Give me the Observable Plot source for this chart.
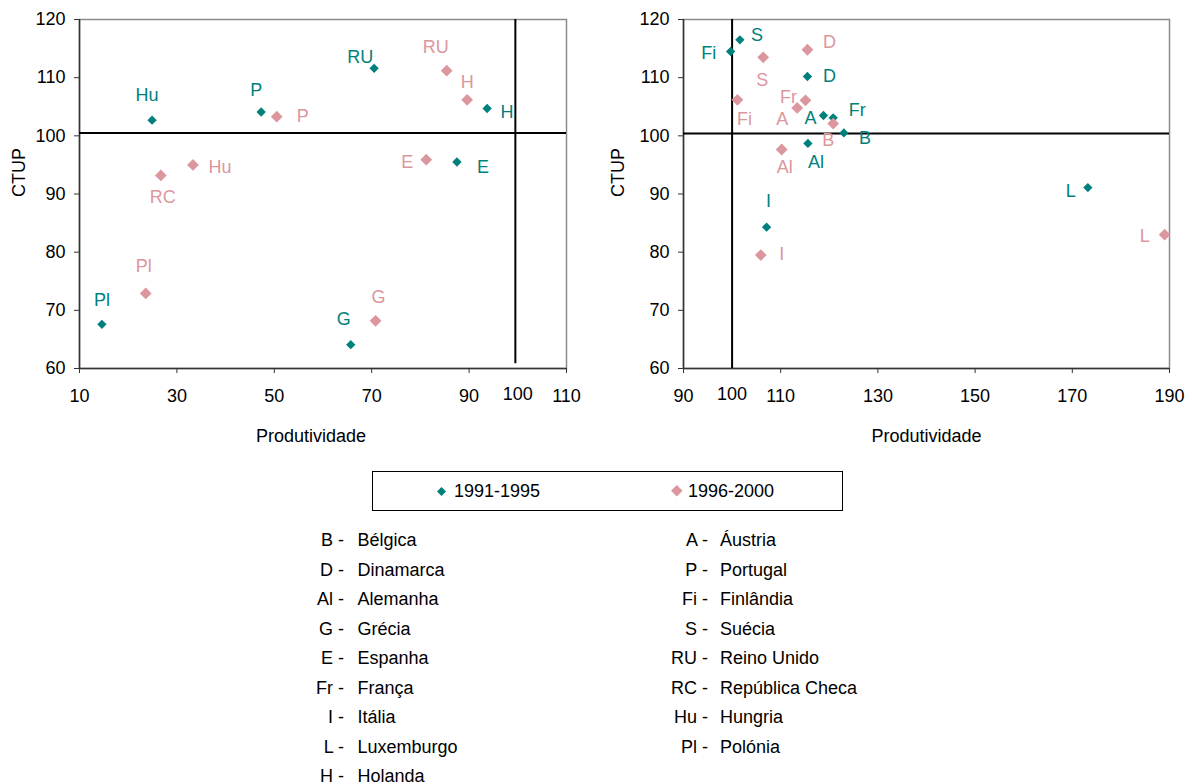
<!DOCTYPE html>
<html>
<head>
<meta charset="utf-8">
<script src="https://cdn.jsdelivr.net/npm/d3@7"></script>
<script src="https://cdn.jsdelivr.net/npm/@observablehq/plot@0.6"></script>
<style>
  html, body { margin: 0; padding: 0; background: #fff; }
  body { width: 1192px; height: 784px; position: relative; overflow: hidden;
         font-family: "Liberation Sans", Arial, sans-serif; font-size: 18px; color: #000; }
  .abs { position: absolute; }
  .row { position: absolute; height: 22px; line-height: 22px; white-space: nowrap; }
</style>
</head>
<body>
<div id="left" class="abs" style="left:0;top:0"></div>
<div id="right" class="abs" style="left:596px;top:0"></div>
<div id="legend" class="abs" style="left:372px;top:471px;width:469px;height:38px;border:1px solid #000"></div>
<div id="list"></div>
<script>
// ---------- data ----------
const seriesNames = ["1991-1995", "1996-2000"];

// Left chart (Produtividade 10-110)
const leftLabels1 = ["Hu", "P", "RU", "H", "E", "Pl", "G"];
const leftProd1   = [24.9, 47.3, 70.5, 93.7, 87.5, 14.6, 65.7];
const leftCtup1   = [102.7, 104.1, 111.6, 104.7, 95.5, 67.6, 64.1];
const leftLabels2 = ["P", "RU", "H", "E", "Hu", "RC", "Pl", "G"];
const leftProd2   = [50.5, 85.4, 89.6, 81.2, 33.3, 26.7, 23.6, 70.8];
const leftCtup2   = [103.3, 111.2, 106.2, 95.9, 95.0, 93.2, 72.9, 68.2];

// Right chart (Produtividade 90-190)
const rightLabels1 = ["Fi", "S", "D", "A", "Fr", "B", "Al", "I", "L"];
const rightProd1   = [99.7, 101.6, 115.5, 118.8, 120.8, 123.0, 115.6, 107.1, 173.2];
const rightCtup1   = [114.5, 116.5, 110.2, 103.5, 103.1, 100.5, 98.7, 84.3, 91.1];
const rightLabels2 = ["S", "D", "Fi", "Fr", "A", "B", "Al", "I", "L"];
const rightProd2   = [106.4, 115.5, 101.1, 115.1, 113.4, 120.8, 110.2, 105.9, 189.0];
const rightCtup2   = [113.5, 114.8, 106.2, 106.1, 104.8, 102.1, 97.65, 79.5, 83.0];

// axes / reference lines
const leftXDomain = [10, 110];
const rightXDomain = [90, 190];
const yDomain = [60, 120];
const leftXTicks = [10, 30, 50, 70, 90, 110];
const rightXTicks = [90, 110, 130, 150, 170, 190];
const yTicks = [60, 70, 80, 90, 100, 110, 120];
const extraXTickLabels = [100];
const leftRefX = [99.5];  const leftRefY = [100.5];  const leftRefXBottom = 60.8;
const rightRefX = [100];  const rightRefY = [100.4]; const rightRefXBottom = 60;
const xTitle = "Produtividade";
const yTitle = "CTUP";

// country key
const keyAbbrevLeft  = ["B", "D", "Al", "G", "E", "Fr", "I", "L", "H"];
const keyNamesLeft   = ["Bélgica", "Dinamarca", "Alemanha", "Grécia", "Espanha", "França", "Itália", "Luxemburgo", "Holanda"];
const keyAbbrevRight = ["A", "P", "Fi", "S", "RU", "RC", "Hu", "Pl"];
const keyNamesRight  = ["Áustria", "Portugal", "Finlândia", "Suécia", "Reino Unido", "República Checa", "Hungria", "Polónia"];

// ---------- styling / layout ----------
const colors = ["#00807c", "#dc969e"];
const dotR = [4.2, 5.3];
const FONT = "'Liberation Sans', Arial, sans-serif";

// label nudges (pixels) relative to each marker
const nudgeLeft = [
  {Hu:[-5,-25], P:[-5,-22], RU:[-14,-11], H:[20,4], E:[26,5], Pl:[0,-24], G:[-7,-25]},
  {P:[26,0], RU:[-11,-23], H:[0,-18], E:[-19,3], Hu:[27,2], RC:[2,22], Pl:[-2,-27], G:[3,-24]}
];
const nudgeRight = [
  {Fi:[-22,2], S:[17,-5], D:[22,0], A:[-13,3], Fr:[24,-8], B:[21,5], Al:[8,19], I:[2,-26], L:[-17,4]},
  {S:[-1,23], D:[22,-8], Fi:[7,19], Fr:[-17,-3], A:[-15,11], B:[-5,17], Al:[3,18], I:[21,-1], L:[-20,2]}
];

function rows(labels, xs, ys, s) {
  return labels.map((l, i) => ({label: l, x: xs[i], y: ys[i], s}));
}

function chart(cfg) {
  const marks = [
    Plot.frame({stroke: "#8c8c8c", strokeWidth: 1.5}),
    Plot.ruleX([cfg.xDomain[0]], {stroke: "#333", strokeWidth: 1.5}),
    Plot.ruleY([yDomain[0]], {stroke: "#333", strokeWidth: 1.5}),
    Plot.axisX(cfg.xTicks, {tickSize: 5, tickPadding: 16, fontSize: 18, label: null, stroke: "#333"}),
    Plot.axisY(yTicks, {tickSize: 5, tickPadding: 9, fontSize: 18, label: null, stroke: "#333"}),
    Plot.text(extraXTickLabels, {x: d => d, frameAnchor: "bottom", dy: 31, fontSize: 18, fill: "#000"}),
    Plot.text([xTitle], {frameAnchor: "bottom", dy: 73, dx: cfg.titleDx, fontSize: 18, fill: "#000"}),
    Plot.text([yTitle], {frameAnchor: "left", dx: cfg.ctupDx, dy: 3, rotate: -90, fontSize: 18, fill: "#000"}),
    Plot.ruleY(cfg.refY, {stroke: "#000", strokeWidth: 2}),
    Plot.ruleX(cfg.refX, {y1: cfg.refXBottom, y2: yDomain[1], stroke: "#000", strokeWidth: 2})
  ];
  cfg.series.forEach((pts, s) => {
    marks.push(Plot.dot(pts, {x: "x", y: "y", symbol: "diamond2", r: dotR[s], fill: colors[s], stroke: "none"}));
    pts.forEach(p => {
      const n = cfg.nudge[s][p.label] || [0, 0];
      marks.push(Plot.text([p], {x: "x", y: "y", text: "label", dx: n[0], dy: n[1],
        fill: colors[s], fontSize: 18, textAnchor: "middle", lineAnchor: "middle"}));
    });
  });
  return Plot.plot({
    width: 596, height: 450,
    marginLeft: cfg.marginLeft, marginRight: cfg.marginRight, marginTop: 19, marginBottom: 82,
    style: {fontFamily: FONT, fontSize: "18px", color: "#000", background: "transparent", overflow: "visible"},
    x: {domain: cfg.xDomain},
    y: {domain: yDomain},
    marks
  });
}

document.getElementById("left").appendChild(chart({
  xDomain: leftXDomain, xTicks: leftXTicks, refX: leftRefX, refY: leftRefY, refXBottom: leftRefXBottom,
  marginLeft: 79, marginRight: 30, titleDx: -12, ctupDx: -60,
  series: [rows(leftLabels1, leftProd1, leftCtup1, 0), rows(leftLabels2, leftProd2, leftCtup2, 1)],
  nudge: nudgeLeft
}));
document.getElementById("right").appendChild(chart({
  xDomain: rightXDomain, xTicks: rightXTicks, refX: rightRefX, refY: rightRefY, refXBottom: rightRefXBottom,
  marginLeft: 87, marginRight: 23, titleDx: 0, ctupDx: -65,
  series: [rows(rightLabels1, rightProd1, rightCtup1, 0), rows(rightLabels2, rightProd2, rightCtup2, 1)],
  nudge: nudgeRight
}));

// legend
const legend = document.getElementById("legend");
const legendPos = [{m: 68.7, t: 81}, {m: 303.7, t: 315}];
const legendHalf = [4.5, 5.8];
seriesNames.forEach((name, i) => {
  const h = legendHalf[i];
  const svg = d3.create("svg").attr("width", 2 * h + 2).attr("height", 2 * h + 2)
    .style("position", "absolute").style("left", (legendPos[i].m - h - 1) + "px").style("top", (19 - h - 1) + "px");
  svg.append("path").attr("d", `M${h + 1},1 L${2 * h + 1},${h + 1} L${h + 1},${2 * h + 1} L1,${h + 1} Z`).attr("fill", colors[i]);
  legend.appendChild(svg.node());
  const t = document.createElement("div");
  t.className = "row"; t.textContent = name;
  t.style.left = legendPos[i].t + "px"; t.style.top = (19 - 11) + "px";
  legend.appendChild(t);
});

// country key
const list = document.getElementById("list");
function keyColumn(abbrevs, names, abbrevRight, nameLeft) {
  abbrevs.forEach((a, i) => {
    const top = 540 + 29.5 * i - 11;
    const ab = document.createElement("div");
    ab.className = "row"; ab.textContent = a + " -";
    ab.style.right = (1192 - abbrevRight) + "px"; ab.style.top = top + "px"; ab.style.textAlign = "right";
    list.appendChild(ab);
    const nm = document.createElement("div");
    nm.className = "row"; nm.textContent = names[i];
    nm.style.left = nameLeft + "px"; nm.style.top = top + "px";
    list.appendChild(nm);
  });
}
keyColumn(keyAbbrevLeft, keyNamesLeft, 344, 357.5);
keyColumn(keyAbbrevRight, keyNamesRight, 708, 720);
</script>
</body>
</html>
